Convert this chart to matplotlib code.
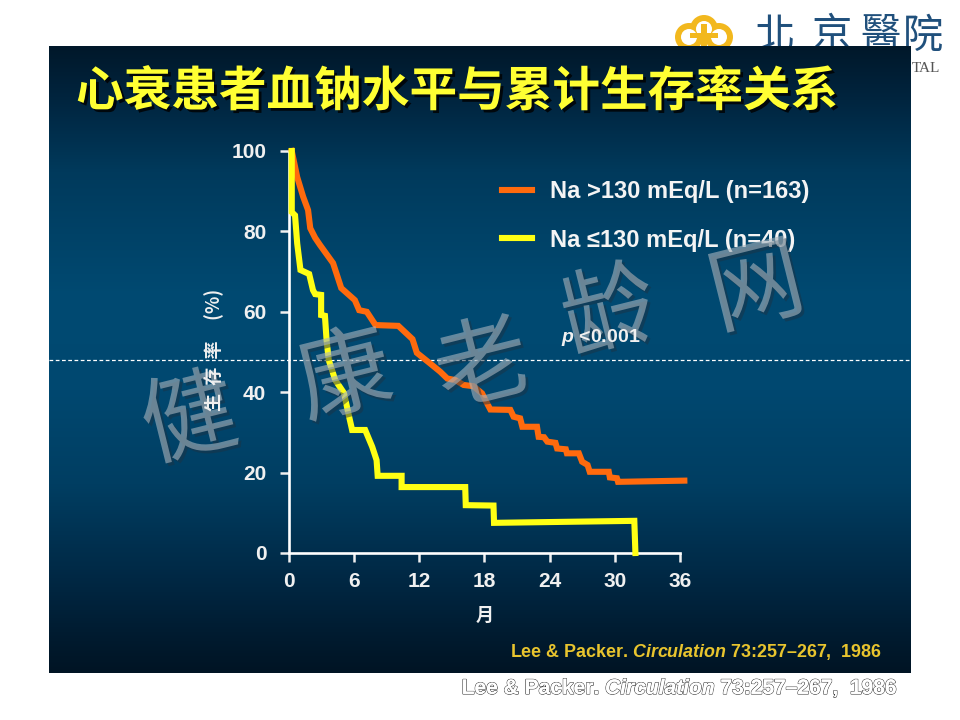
import numpy as np
import matplotlib
matplotlib.use("Agg")
import matplotlib.pyplot as plt
import matplotlib.patheffects as pe
from matplotlib.patches import Circle, Rectangle

plt.rcParams['font.family'] = ['Liberation Sans', 'Noto Sans CJK SC', 'DejaVu Sans']
plt.rcParams['mathtext.fontset'] = 'custom'
plt.rcParams['mathtext.it'] = 'Liberation Sans:italic:bold'

# survival curves (months, percent)
orange_x = [0.3, 0.8, 1.35, 1.8, 2.0, 2.45, 2.9, 4.1, 4.85, 6.1, 6.5, 7.2, 8.0, 10.1, 11.4, 11.8,
            13.0, 13.95, 14.6, 15.35, 16.1, 17.0, 17.8, 18.1, 18.56, 20.4, 20.7, 21.3, 21.5, 22.85,
            23.0, 23.5, 23.8, 24.55, 24.7, 25.5, 25.6, 26.7, 27.0, 27.5, 27.7, 29.45, 29.55, 30.2,
            30.3, 36.4]
orange_y = [100, 93.5, 88.6, 85.3, 80.8, 78.4, 76.6, 72.1, 65.9, 62.9, 60.4, 60, 56.7, 56.5, 53.2, 49.8,
            47.2, 45.1, 43.4, 43.0, 41.8, 41.5, 39.7, 38.05, 35.7, 35.6, 33.9, 33.5, 31.4, 31.4,
            28.9, 28.8, 27.7, 27.4, 26.0, 25.8, 24.8, 24.8, 22.7, 21.9, 20.2, 20.2, 18.8, 18.6,
            17.7, 18.0]
yellow_x = [0.3, 0.3, 0.6, 0.8, 1.1, 1.9, 2.25, 2.45, 3.0, 3.0, 3.35, 3.5, 3.7, 4.3, 5.1, 5.5, 5.85,
            7.05, 7.7, 8.1, 8.2, 10.4, 10.4, 16.25, 16.3, 18.85, 18.9, 31.8, 31.9]
yellow_y = [100, 84.8, 84, 77, 70.4, 69.4, 65.4, 64.4, 64.2, 59.2, 59, 53, 48, 43, 39.8, 34.8, 30.6,
            30.6, 26.4, 23.1, 19.2, 19.2, 16.4, 16.4, 11.9, 11.8, 7.5, 8.0, 0]

x_ticks = [0, 6, 12, 18, 24, 30, 36]
y_ticks = [0, 20, 40, 60, 80, 100]
label_orange = "Na >130 mEq/L (n=163)"
label_yellow = "Na \u2264130 mEq/L (n=40)"
title = "心衰患者血钠水平与累计生存率关系"
citation = "Lee & Packer. $\\mathit{Circulation}$ 73:257\u2013267,  1986"
watermark = ["健", "康", "老", "龄", "网"]
watermark_x = [190, 345, 483, 610, 757]
watermark_y = [422, 379, 368, 315, 290]

W, H = 960, 720
fig = plt.figure(figsize=(9.6, 7.2), dpi=100, facecolor="white")

# slide background in pixel coordinates
bg = fig.add_axes([0, 0, 1, 1], zorder=0)
bg.set_xlim(0, W)
bg.set_ylim(H, 0)
bg.axis("off")

# logo, mostly hidden behind the slide
for cx, cy, r in [(689, 37, 14), (704, 29, 14), (719, 37, 14)]:
    bg.add_patch(Circle((cx, cy), r, fc="#f2b81e", ec="none", zorder=1))
for cx, cy, r in [(689, 37, 8), (704, 29, 8), (719, 37, 8)]:
    bg.add_patch(Circle((cx, cy), r, fc="white", ec="none", zorder=1.1))
bg.add_patch(Rectangle((701, 24), 6, 24, fc="#f2b81e", ec="none", zorder=1.2))
bg.add_patch(Rectangle((690, 33), 28, 5, fc="#f2b81e", ec="none", zorder=1.2))
for ch, cx in zip("北京醫院", [775, 832, 880, 923]):
    bg.text(cx, 36, ch, fontsize=29, color="#20507c", ha="center", va="center",
            family=['Noto Sans CJK TC'], zorder=1.3)
bg.text(926, 68, "TAL", fontsize=11, color="#555555", ha="center", va="center",
        family=['Liberation Serif'], zorder=1.3)

stops_y = [0, 0.08, 0.2, 0.4, 0.55, 0.7, 0.85, 0.95, 1]
stops_c = np.array([[0, 24, 42], [0, 36, 62], [0, 58, 92], [0, 74, 114], [0, 72, 112],
                    [0, 62, 98], [0, 40, 68], [0, 26, 46], [0, 20, 36]]) / 255
t = np.linspace(0, 1, 300)
grad = np.stack([np.interp(t, stops_y, stops_c[:, i]) for i in range(3)], axis=1)[:, None, :]
bg.imshow(grad, extent=[49, 911, 673, 46], aspect="auto", zorder=2)
bg.set_xlim(0, W)
bg.set_ylim(H, 0)

bg.text(457, 92, title, fontsize=34.3, weight="bold", color="#ffff33", ha="center", va="center",
        family=['Noto Sans CJK SC'], zorder=3,
        path_effects=[pe.withSimplePatchShadow(offset=(2, -2), shadow_rgbFace="black", alpha=0.8)])
bg.plot([49, 911], [360, 360], color="white", lw=0.9, ls=(0, (3, 2)), zorder=3)
bg.text(696, 652, citation, fontsize=12.9, weight="bold", color="#e8c42e", ha="center", va="center",
        zorder=3)
bg.text(680, 688, citation, fontsize=15.1, weight="bold", color="white", ha="center", va="center",
        zorder=3, path_effects=[pe.withStroke(linewidth=0.9, foreground="#333333"),
                                pe.Normal()])

# the chart itself
x0, x36, y100, y0 = 288.5, 680, 151, 553
ax = fig.add_axes([x0 / W, 1 - y0 / H, (x36 - x0) / W, (y0 - y100) / H], zorder=1)
ax.patch.set_alpha(0)
ax.plot(orange_x, orange_y, color="#ff6a0d", lw=4.4, solid_joinstyle="miter", clip_on=False,
        label=label_orange, zorder=3)
ax.plot(yellow_x, yellow_y, color="#ffff14", lw=4.4, solid_joinstyle="miter", clip_on=False,
        label=label_yellow, zorder=4)
ax.set_xlim(0, 36)
ax.set_ylim(0, 100)
ax.set_xticks(x_ticks)
ax.set_yticks(y_ticks)
for s in ["top", "right"]:
    ax.spines[s].set_visible(False)
for s in ["left", "bottom"]:
    ax.spines[s].set_color("white")
    ax.spines[s].set_linewidth(1.9)
ax.tick_params(axis="x", colors="#f0f0f0", length=6.5, width=1.8, labelsize=15, pad=7)
ax.tick_params(axis="y", colors="#f0f0f0", length=6.5, width=1.8, labelsize=15, pad=9.5)
for lab in ax.get_xticklabels() + ax.get_yticklabels():
    lab.set_fontweight("bold")

leg = ax.legend(loc="upper left", bbox_to_anchor=((502 - x0) / (x36 - x0), (y0 - 180) / (y0 - y100)),
                frameon=False, fontsize=17, handlelength=1.25, handletextpad=0.8,
                labelspacing=1.08, borderpad=0, borderaxespad=0)
for txt in leg.get_texts():
    txt.set_color("#f4f4f4")
    txt.set_fontweight("bold")

# labels and watermark sit on top
top = fig.add_axes([0, 0, 1, 1], zorder=2)
top.set_xlim(0, W)
top.set_ylim(H, 0)
top.axis("off")
for ch, cx, cy in zip(watermark, watermark_x, watermark_y):
    top.text(cx, cy, ch, fontsize=68, rotation=14, color="#a4b2bc", alpha=0.62,
             ha="center", va="center", family=['Noto Sans CJK SC'],
             path_effects=[pe.withSimplePatchShadow(offset=(2, -2), shadow_rgbFace="#1c3344", alpha=0.5)])
top.text(214, 350, "生  存  率     (%)", rotation=90, fontsize=13, weight="bold", color="#f0f0f0",
         ha="center", va="center", family=['Noto Sans CJK SC'], zorder=5)
top.text(485, 615, "月", fontsize=13, weight="bold", color="#f0f0f0", ha="center", va="center",
         family=['Noto Sans CJK SC'], zorder=5)
top.text(601, 337, "$\\mathit{p}$ <0.001", fontsize=14, weight="bold", color="#f0f0f0",
         ha="center", va="center", zorder=5)

fig.savefig("out.png", dpi=100)
